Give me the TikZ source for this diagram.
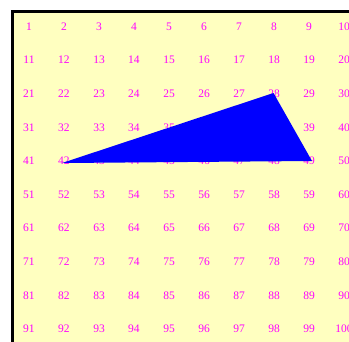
\documentclass[tikz,border=0pt]{standalone}
\usepackage{fontspec}
\setmainfont{Liberation Serif}
\definecolor{bgyellow}{HTML}{FFFFC0}
\definecolor{numcol}{HTML}{FF00FF}
\definecolor{tricol}{HTML}{0000FF}
\tikzset{num/.style={text=numcol,font=\fontsize{11.5}{13}\selectfont,inner sep=0pt,anchor=center}}
\begin{document}
\begin{tikzpicture}[x=1pt,y=-1pt]
\useasboundingbox (0,0) rectangle (349,341);
\fill[bgyellow] (12.5,11.5) rectangle (352,345);
\draw[line width=3pt] (12.5,348) -- (12.5,11.5) -- (352,11.5);
\foreach \r in {0,...,9}{
  \foreach \c in {1,...,10}{
    \pgfmathtruncatemacro{\n}{\r*10+\c}
    \node[num] (n\n) at ({29+35*(\c-1)},{26.5+33.6*\r}) {\n};
  }
}
\coordinate (a) at (62,163);
\coordinate (b) at (273.5,93);
\coordinate (c) at (312,161);
\fill[tricol] (a) -- (b) -- (c) -- cycle;
\end{tikzpicture}
\end{document}
